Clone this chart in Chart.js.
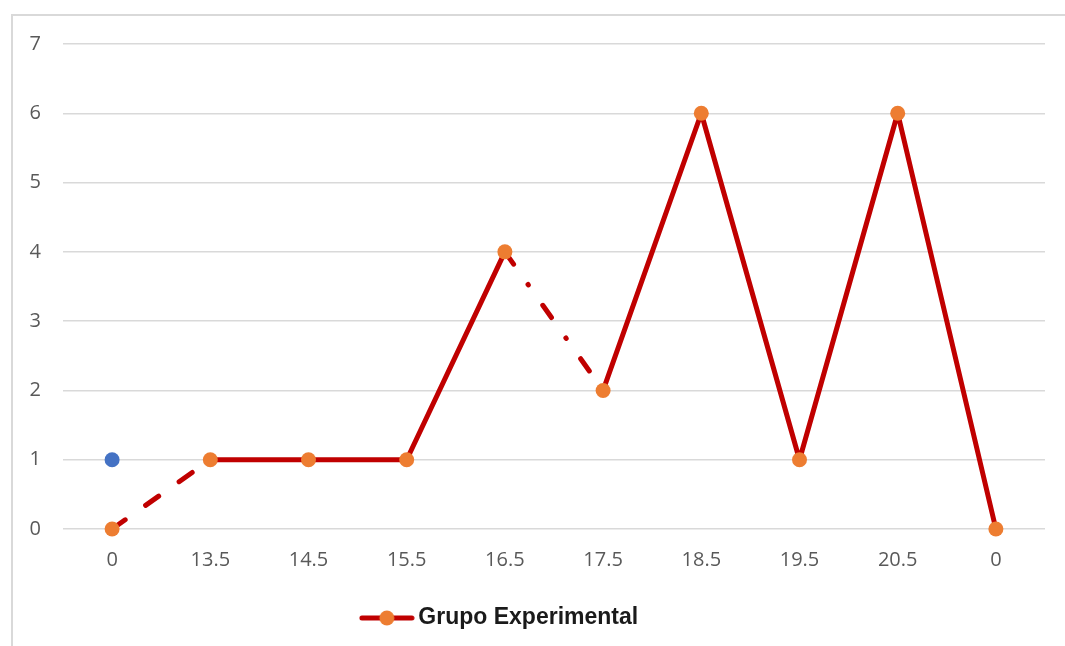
<!DOCTYPE html>
<html>
<head>
<meta charset="utf-8">
<script src="https://cdn.jsdelivr.net/npm/chart.js@4"></script>
<style>
  html, body { margin: 0; padding: 0; background: #fff; overflow: hidden; }
  #frame { position: absolute; left: 11px; top: 14px; width: 1100px; height: 700px; border: 2px solid #d9d9d9; }
  #myChart { position: absolute; left: -40px; top: 0; }
</style>
</head>
<body>
<div id="frame"></div>
<canvas id="myChart" width="1105" height="646"></canvas>
<script>
// Chart data
const categories = ['0', '13.5', '14.5', '15.5', '16.5', '17.5', '18.5', '19.5', '20.5', '0'];
const grupoExperimental = [0, 1, 1, 1, 4, 2, 6, 1, 6, 0];
const serieAzul = [1, null, null, null, null, null, null, null, null, null];
const yTicks = [0, 1, 2, 3, 4, 5, 6, 7];

const lineColor = '#C00000';
const markerColor = '#ED7D31';

// legend marker: line with a dot in the middle
const legendIcon = document.createElement('canvas');
legendIcon.width = 56;
legendIcon.height = 20;
const ic = legendIcon.getContext('2d');
ic.strokeStyle = lineColor;
ic.lineWidth = 5;
ic.lineCap = 'round';
ic.beginPath();
ic.moveTo(3, 10);
ic.lineTo(53, 10);
ic.stroke();
ic.fillStyle = markerColor;
ic.beginPath();
ic.arc(28, 10, 7.5, 0, Math.PI * 2);
ic.fill();

const ctx = document.getElementById('myChart').getContext('2d');
const chart = new Chart(ctx, {
    type: 'line',
    data: {
        labels: categories,
        datasets: [{
            label: 'Grupo Experimental',
            data: grupoExperimental,
            clip: false,
            borderColor: lineColor,
            borderWidth: 5,
            borderCapStyle: 'round',
            borderJoinStyle: 'round',
            tension: 0,
            pointRadius: 7.5,
            pointHoverRadius: 7.5,
            pointBorderWidth: 0,
            pointBackgroundColor: markerColor,
            segment: {
                borderDash: c => {
                    if (c.p0DataIndex === 0) return [16, 25];
                    if (c.p0DataIndex === 4) return [15, 25, 0.5, 25];
                    return undefined;
                }
            }
        }, {
            label: 'Serie azul',
            data: serieAzul,
            clip: false,
            showLine: false,
            pointRadius: 7.5,
            pointBorderWidth: 0,
            pointBackgroundColor: '#4472C4'
        }]
    },
    options: {
        responsive: false,
        animation: false,
        layout: {
            padding: { left: 0, right: 20, top: 44, bottom: 6.5 }
        },
        plugins: {
            tooltip: { enabled: false },
            legend: {
                position: 'bottom',
                labels: {
                    usePointStyle: true,
                    pointStyleWidth: 40,
                    padding: 10,
                    color: '#1a1a1a',
                    font: { family: '"Liberation Sans", Arial', size: 23, weight: 'bold' },
                    generateLabels: ch => [{
                        text: 'Grupo Experimental',
                        datasetIndex: 0,
                        pointStyle: legendIcon,
                        fillStyle: markerColor,
                        strokeStyle: lineColor,
                        lineWidth: 0,
                        fontColor: '#1a1a1a'
                    }]
                }
            }
        },
        scales: {
            x: {
                offset: true,
                grid: { display: false, drawTicks: false },
                border: { display: false },
                ticks: {
                    padding: 19,
                    color: '#595959',
                    font: { family: '"Open Sans"', size: 20 },
                    maxRotation: 0,
                    autoSkip: false
                },
                afterFit: scale => { scale.height = 67.5; }
            },
            y: {
                min: 0,
                max: 7,
                afterBuildTicks: scale => { scale.ticks = yTicks.map(v => ({ value: v })); },
                grid: { color: '#d9d9d9', lineWidth: 1.5, drawTicks: false },
                border: { display: false },
                ticks: {
                    padding: 22,
                    color: '#595959',
                    font: { family: '"Open Sans"', size: 20 }
                },
                afterFit: scale => { scale.width = 103; }
            }
        }
    }
});
</script>
</body>
</html>
